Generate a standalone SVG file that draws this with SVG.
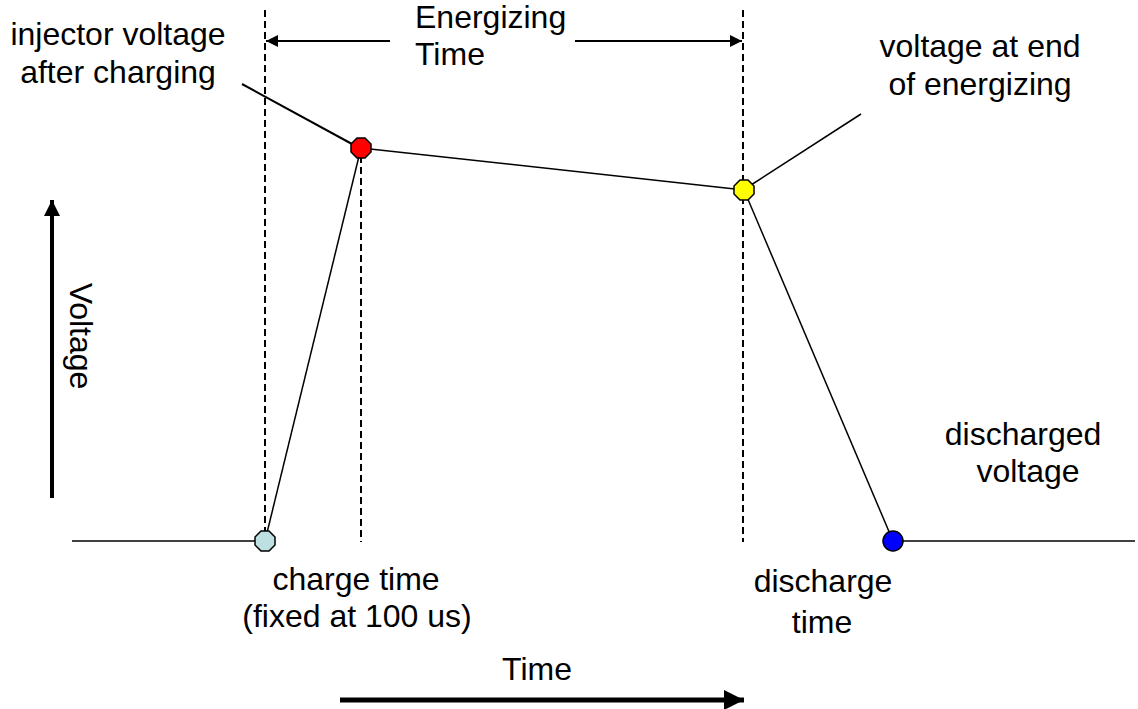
<svg xmlns="http://www.w3.org/2000/svg" width="1138" height="709" viewBox="0 0 1138 709">
<defs>
<style>
text{font-family:"Liberation Sans",Arial,sans-serif;font-size:32px;fill:#000}
.dash{stroke:#000;stroke-width:2;stroke-dasharray:7,4;fill:none}
.ln{stroke:#000;stroke-width:1.5;fill:none}
.lead{stroke:#000;stroke-width:2;fill:none}
.pt{stroke:#000;stroke-width:1.5}
</style>
<marker id="ah" viewBox="0 0 10 10" refX="10" refY="5" markerWidth="4" markerHeight="4" orient="auto" markerUnits="strokeWidth"><path d="M0,0 L10,5 L0,10 z" fill="#000"/></marker>
<marker id="ahs" viewBox="0 0 10 10" refX="10" refY="5" markerWidth="6" markerHeight="6" orient="auto" markerUnits="strokeWidth"><path d="M0,0 L10,5 L0,10 z" fill="#000"/></marker>
</defs>
<rect width="1138" height="709" fill="#fff"/>
<g id="connectors">
<line class="dash" x1="265" y1="10" x2="265" y2="532"/>
<line class="dash" x1="361" y1="156" x2="361" y2="542"/>
<line class="dash" x1="743" y1="10" x2="743" y2="542"/>
<line class="lead" x1="390" y1="41" x2="266" y2="41" marker-end="url(#ahs)"/>
<line class="lead" x1="575" y1="41" x2="742" y2="41" marker-end="url(#ahs)"/>
<line class="ln" x1="72" y1="541" x2="265" y2="541"/>
<line class="ln" x1="265" y1="541" x2="361" y2="148"/>
<line class="ln" x1="361" y1="148" x2="744" y2="190"/>
<line class="ln" x1="744" y1="190" x2="893" y2="541"/>
<line class="ln" x1="893" y1="541" x2="1135" y2="541"/>
<line class="lead" x1="242" y1="84" x2="352" y2="144"/>
<line class="ln" x1="751" y1="185" x2="861" y2="114"/>
<line x1="52" y1="498" x2="52" y2="200" stroke="#000" stroke-width="4" marker-end="url(#ah)"/>
<line x1="340" y1="700" x2="744" y2="700" stroke="#000" stroke-width="5" marker-end="url(#ah)"/>
</g>
<g id="p-charge"><polygon class="pt" fill="#bfe0e3" points="261,531 269,531 275,537 275,545 269,551 261,551 255,545 255,537"/></g>
<g id="p-red"><polygon class="pt" fill="#ff0000" points="357,138 365,138 371,144 371,152 365,158 357,158 351,152 351,144"/></g>
<g id="p-yellow"><polygon class="pt" fill="#ffff00" points="740,180 748,180 754,186 754,194 748,200 740,200 734,194 734,186"/></g>
<g id="p-blue"><circle class="pt" fill="#0000ff" cx="893" cy="541" r="10"/></g>
<g id="labels">
<text x="118" y="45" text-anchor="middle">injector voltage</text>
<text x="118" y="83" text-anchor="middle">after charging</text>
<text x="415" y="28">Energizing</text>
<text x="415" y="65">Time</text>
<text x="980" y="57" text-anchor="middle">voltage at end</text>
<text x="980" y="95" text-anchor="middle">of energizing</text>
<text x="1023" y="445" text-anchor="middle">discharged</text>
<text x="1028" y="482" text-anchor="middle">voltage</text>
<text x="356" y="590" text-anchor="middle">charge time</text>
<text x="357" y="627" text-anchor="middle">(fixed at 100 us)</text>
<text x="823" y="592" text-anchor="middle">discharge</text>
<text x="822" y="633" text-anchor="middle">time</text>
<text x="537" y="680" text-anchor="middle">Time</text>
<text transform="translate(70,336) rotate(90)" text-anchor="middle">Voltage</text>
</g>
</svg>
